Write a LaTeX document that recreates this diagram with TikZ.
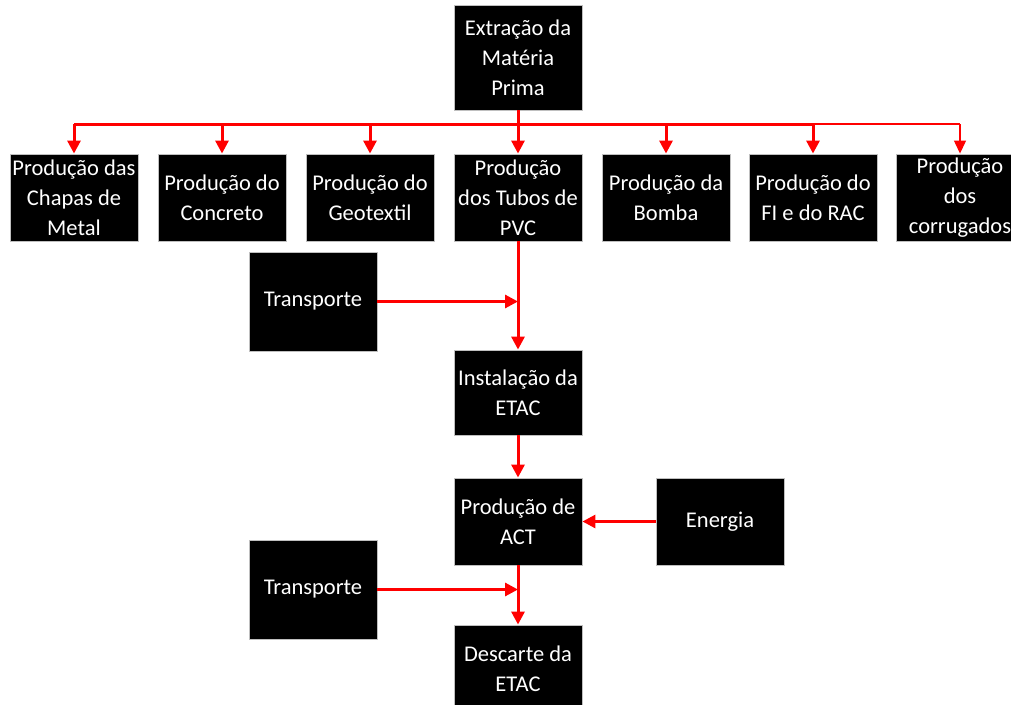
\documentclass[tikz,border=0pt]{standalone}
\usepackage{fontspec}
\setmainfont{Carlito}
\usetikzlibrary{arrows.meta}
\begin{document}
\begin{tikzpicture}[x=1pt,y=-1pt,
  box/.style={fill=black,draw=black!25,line width=0.9pt,text=white,align=center,
    inner sep=0pt,minimum width=128pt,font=\fontsize{22.5}{30}\selectfont},
  arr/.style={draw=red,line width=3pt,-{Triangle[length=13pt,width=13pt]}},
  thinarr/.style={draw=red,line width=1.3pt,-{Triangle[length=13pt,width=12pt]}},
  bus/.style={draw=red,line width=3pt}]
\clip (0,0) rectangle (1011,704);
\node[box,minimum height=105pt] (top) at (518,57.5) {Extração da\\Matéria\\Prima};
\node[box,minimum height=87pt] (b1) at (74,197.5) {Produção das\\Chapas de\\Metal};
\node[box,minimum height=87pt] (b2) at (222,197.5) {Produção do\\Concreto};
\node[box,minimum height=87pt] (b3) at (370,197.5) {Produção do\\Geotextil};
\node[box,minimum height=87pt] (b4) at (518,197.5) {Produção\\dos Tubos de\\PVC};
\node[box,minimum height=87pt] (b5) at (666,197.5) {Produção da\\Bomba};
\node[box,minimum height=87pt] (b6) at (813,197.5) {Produção do\\FI e do RAC};
\node[box,minimum height=87pt] (b7) at (960,197.5) {Produção\\dos\\corrugados};
\node[box,minimum height=99pt] (t1) at (313,301.5) {Transporte};
\node[box,minimum height=85pt] (inst) at (518,392.5) {Instalação da\\ETAC};
\node[box,minimum height=87pt] (act) at (518,521.5) {Produção de\\ACT};
\node[box,minimum height=87pt] (en) at (720,521.5) {Energia};
\node[box,minimum height=99pt] (t2) at (313,589.5) {Transporte};
\node[box,minimum height=87pt] (desc) at (518,668.5) {Descarte da\\ETAC};
\coordinate (bus) at (518,124);
\draw[bus] (top.south) -- (bus);
\draw[bus] (bus -| b1) -- (bus -| b6);
\draw[draw=red,line width=1.3pt] (bus -| b6) -- (bus -| b7);
\foreach \b in {b1,b2,b3,b4,b5,b6} \draw[arr] (bus -| \b) -- (\b.north);
\draw[thinarr] (bus -| b7) -- (b7.north);
\draw[arr] (b4.south) -- (inst.north);
\draw[arr] (t1.east) -- (t1.east -| b4);
\draw[arr] (inst.south) -- (act.north);
\draw[arr] (en.west) -- (act.east);
\draw[arr] (act.south) -- (desc.north);
\draw[arr] (t2.east) -- (t2.east -| act);
\end{tikzpicture}
\end{document}
